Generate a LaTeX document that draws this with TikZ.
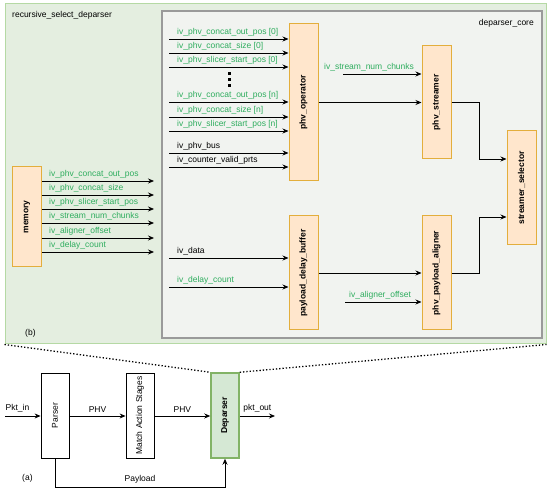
\documentclass[tikz,border=0pt]{standalone}
\usepackage{fontspec}
\setmainfont{Liberation Sans}
\usetikzlibrary{arrows.meta,calc}

\definecolor{sig}{HTML}{2EAD5E}
\definecolor{rsdfill}{HTML}{E4EEE0}
\definecolor{rsdline}{HTML}{B5D9A4}
\definecolor{corefill}{HTML}{F1F3F0}
\definecolor{coreline}{HTML}{9A9A9A}
\definecolor{blkfill}{HTML}{FFE6CC}
\definecolor{blkline}{HTML}{E3AE3C}
\definecolor{depfill}{HTML}{D5E8D4}
\definecolor{depline}{HTML}{82B366}

\tikzset{
    every node/.style={font=\fontsize{8.5}{10}\selectfont},
    arr/.style={-{Stealth[length=6pt,width=5pt]},line width=0.8pt},
    blk/.style={draw=blkline,fill=blkfill,line width=1pt,minimum width=29pt},
    wbox/.style={draw=black,fill=white,line width=0.8pt,minimum width=28pt,minimum height=85pt},
    vlab/.style={rotate=90,font=\fontsize{8.5}{10}\selectfont\bfseries},
    plab/.style={rotate=90,font=\fontsize{8.5}{10}\selectfont},
    siglab/.style={anchor=base west,inner sep=0pt,text=sig},
    blklab/.style={anchor=base west,inner sep=0pt}
}

\begin{document}
\begin{tikzpicture}[x=1pt,y=-1pt]
\useasboundingbox (0,0) rectangle (550,492);

% Frames
\node[draw=rsdline,fill=rsdfill,line width=1pt,minimum width=541pt,minimum height=340pt,inner sep=0pt] (rsd) at (275.5,174) {};
\node[draw=coreline,fill=corefill,line width=1.2pt,minimum width=380pt,minimum height=327pt,inner sep=0pt] (core) at (352,174.5) {};
\node[blklab] (rsdname) at (12,18) {recursive\_select\_deparser};
\node[anchor=base east,inner sep=0pt] (corename) at (534,26) {deparser\_core};
\node[blklab] (blab) at (25,336) {(b)};

% Blocks
\node[blk,minimum height=100pt,label={[vlab]center:memory}] (mem) at (27,217) {};
\node[blk,minimum height=157pt,label={[vlab]center:phv\_operator}] (op) at (303.5,102.5) {};
\node[blk,minimum height=113pt,label={[vlab]center:phv\_streamer}] (str) at (436.5,102.5) {};
\node[blk,minimum height=114pt,label={[vlab]center:streamer\_selector}] (sel) at (521.5,188) {};
\node[blk,minimum height=114pt,label={[vlab]center:payload\_delay\_buffer}] (pdb) at (303.5,273) {};
\node[blk,minimum height=114pt,label={[vlab]center:phv\_payload\_aligner}] (ali) at (436.5,273) {};

% Memory outputs
\foreach \i/\y/\txt in {1/181/iv\_phv\_concat\_out\_pos,2/195/iv\_phv\_concat\_size,3/209/iv\_phv\_slicer\_start\_pos,4/223/iv\_stream\_num\_chunks,5/238/iv\_aligner\_offset,6/252/iv\_delay\_count}{
    \coordinate (m\i) at (154,\y);
    \draw[arr] (mem.east |- m\i) -- (m\i);
    \node[siglab] (ml\i) at (49,\y-4) {\txt};
}

% Operator inputs
\foreach \i/\y/\txt/\col in {1/39/{iv\_phv\_concat\_out\_pos [0]}/sig,2/53/{iv\_phv\_concat\_size [0]}/sig,3/67/{iv\_phv\_slicer\_start\_pos [0]}/sig,4/102/{iv\_phv\_concat\_out\_pos [n]}/sig,5/117/{iv\_phv\_concat\_size [n]}/sig,6/131/{iv\_phv\_slicer\_start\_pos [n]}/sig,7/153/iv\_phv\_bus/black,8/167/iv\_counter\_valid\_prts/black}{
    \coordinate (o\i) at (169,\y);
    \draw[arr] (o\i) -- (op.west |- o\i);
    \node[blklab,text=\col] (ol\i) at (177,\y-4) {\txt};
}
\foreach \d in {74,80,86}
    \fill (227.5,\d-1.5) rectangle ++(3,3);

% Buffer inputs
\coordinate (b1) at (169,258);
\coordinate (b2) at (169,287);
\draw[arr] (b1) -- (pdb.west |- b1);
\draw[arr] (b2) -- (pdb.west |- b2);
\node[blklab] (bl1) at (177,254) {iv\_data};
\node[siglab] (bl2) at (177,283) {iv\_delay\_count};

% Core connections
\coordinate (snc) at (343,74);
\coordinate (aof) at (345,302);
\draw[arr] (snc) -- (str.west |- snc);
\node[siglab] (sncl) at (324,70) {iv\_stream\_num\_chunks};
\draw[arr] (op.east |- str.west) -- (str.west);
\draw[arr] (str.east) -- ++(28,0) |- (sel.west |- 0,159);
\draw[arr] (pdb.east) -- (ali.west);
\draw[arr] (aof) -- (ali.west |- aof);
\node[siglab] (aofl) at (349,298) {iv\_aligner\_offset};
\draw[arr] (ali.east) -- ++(28,0) |- (sel.west |- 0,217);

% Pipeline (a)
\node[wbox,label={[plab]center:Parser}] (parser) at (55,415.5) {};
\node[wbox,label={[plab]center:Match Action Stages}] (mas) at (140,415.5) {};
\node[draw=depline,fill=depfill,line width=1.5pt,minimum width=28pt,minimum height=85pt,label={[vlab]center:Deparser}] (dep) at (225,415.5) {};
\coordinate (pin) at (5,416);
\coordinate (pout) at (275,416);
\draw[arr] (pin) -- node[above,pos=0.35] {Pkt\_in} (parser.west |- pin);
\draw[arr] (parser.east |- pin) -- node[above] {PHV} (mas.west |- pin);
\draw[arr] (mas.east |- pin) -- node[above] {PHV} (dep.west |- pin);
\draw[arr] (dep.east |- pout) -- node[above] {pkt\_out} (pout);
\draw[arr] (parser.south) -- ++(0,29) -| node[pos=0.25,above] {Payload} (dep.south);
\node[blklab] (alab) at (22,480) {(a)};

% Zoom lines
\draw[line width=1.3pt,dotted] (rsd.south west) -- (dep.north west);
\draw[line width=1.3pt,dotted] (dep.north east) -- (rsd.south east);

\end{tikzpicture}
\end{document}
